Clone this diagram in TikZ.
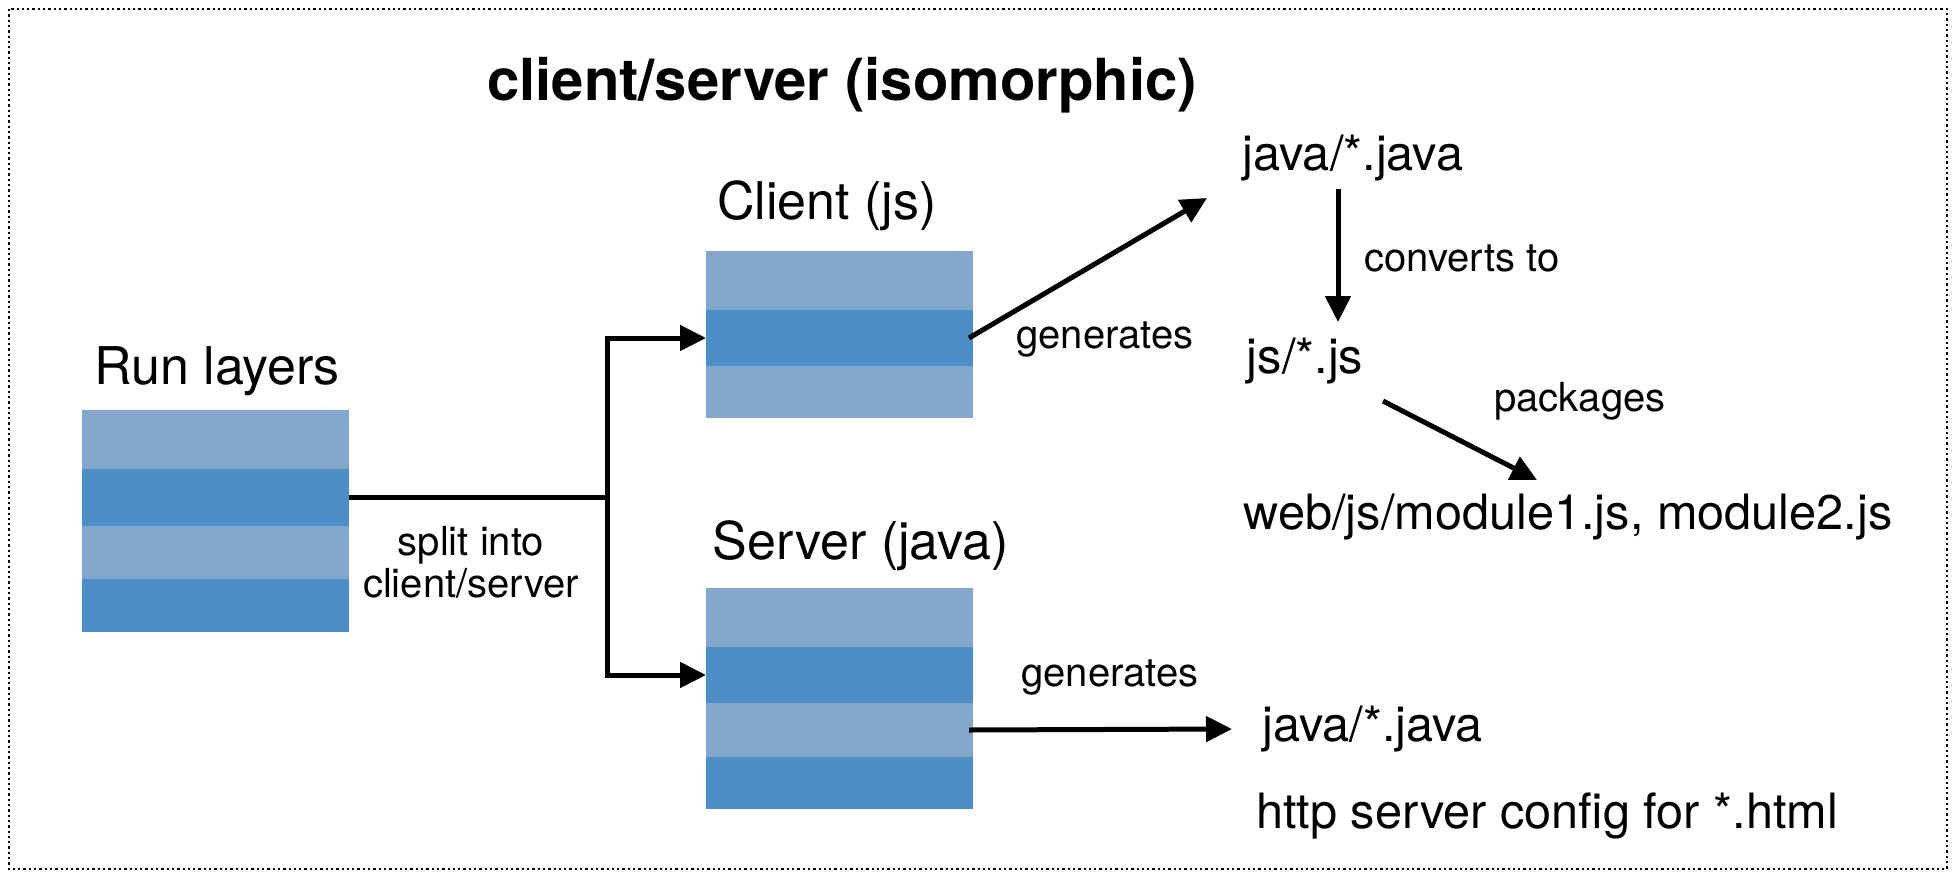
\documentclass[tikz,border=0pt]{standalone}
\usepackage{fontspec}
\setmainfont{TeX Gyre Heros}
\usetikzlibrary{arrows.meta}
\definecolor{bandlight}{HTML}{82A7CB}
\definecolor{banddark}{HTML}{4D8EC9}
\tikzset{
  band/.style={draw=none, inner sep=0, outer sep=0, anchor=north west},
  bandL/.style={band, fill=bandlight},
  bandD/.style={band, fill=banddark},
  head/.style={inner sep=0, font=\fontsize{52}{60}\selectfont},
  body/.style={inner sep=0, font=\fontsize{48.7}{58}\selectfont},
  lbl/.style={inner sep=0, font=\fontsize{40}{48}\selectfont},
  conn/.style={line width=5pt, draw=black},
  arr/.style={conn, -{Triangle[length=26pt,width=25pt]}},
  frame/.style={line width=2.3pt, dash pattern=on 2.3pt off 3pt}
}
\begin{document}
\begin{tikzpicture}[x=1pt, y=-1pt]
\useasboundingbox (0,0) rectangle (1954,881);
\draw[frame] (9,9) rectangle (1947,869);

% title
\node[inner sep=0, font=\fontsize{58}{68}\selectfont\bfseries] (title) at (842,85) {client/server (isomorphic)};

% Run layers stack
\node[head] (runlbl) at (217,371) {Run layers};
\node[bandL, minimum width=267pt, minimum height=59pt] (r1) at (82,410) {};
\node[bandD, minimum width=267pt, minimum height=57pt] (r2) at (r1.south west) {};
\node[bandL, minimum width=267pt, minimum height=53pt] (r3) at (r2.south west) {};
\node[bandD, minimum width=267pt, minimum height=53pt] (r4) at (r3.south west) {};

% Client stack
\node[head] (clientlbl) at (827,206) {Client (js)};
\node[bandL, minimum width=267pt, minimum height=59pt] (c1) at (706,251) {};
\node[bandD, minimum width=267pt, minimum height=56pt] (c2) at (c1.south west) {};
\node[bandL, minimum width=267pt, minimum height=52pt] (c3) at (c2.south west) {};

% Server stack
\node[head] (serverlbl) at (861,546) {Server (java)};
\node[bandL, minimum width=267pt, minimum height=59pt] (s1) at (706,588) {};
\node[bandD, minimum width=267pt, minimum height=56pt] (s2) at (s1.south west) {};
\node[bandL, minimum width=267pt, minimum height=54pt] (s3) at (s2.south west) {};
\node[bandD, minimum width=267pt, minimum height=52pt] (s4) at (s3.south west) {};

% split into client/server
\coordinate (split) at (607,0 |- r2.east);
\draw[conn] (r2.east) -- (split);
\draw[arr] (split) |- (c2.west);
\draw[arr] (split) |- (s2.west);
\node[lbl, align=center] (splitlbl) at (471,562) {split into\\[-6pt]client/server};

% client side outputs
\node[body] (javatop) at (1353,158) {java/*.java};
\node[body] (jsall) at (1305,361) {js/*.js};
\node[body] (webjs) at (1568,517) {web/js/module1.js, module2.js};
\coordinate (gentip) at (1207,198);
\draw[arr] ([xshift=-4pt]c2.east) -- (gentip);
\node[lbl] (gen1) at (1105,339) {generates};
\coordinate (convfrom) at (1338,189);
\coordinate (convto) at (1338,322);
\draw[arr] (convfrom) -- (convto);
\node[lbl] (convlbl) at (1462,258) {converts to};
\coordinate (pkgfrom) at (1383,401);
\coordinate (pkgto) at (1537,480);
\draw[arr] (pkgfrom) -- (pkgto);
\node[lbl] (pkglbl) at (1580,401) {packages};

% server side outputs
\node[body, anchor=west] (javabot) at (1262,729) {java/*.java};
\node[body, anchor=west] (httpcfg) at (1256,816) {http server config for *.html};
\draw[arr] ([xshift=-4pt]s3.east) -- ([xshift=-30pt]javabot.west);
\node[lbl] (gen2) at (1110,677) {generates};
\end{tikzpicture}
\end{document}
